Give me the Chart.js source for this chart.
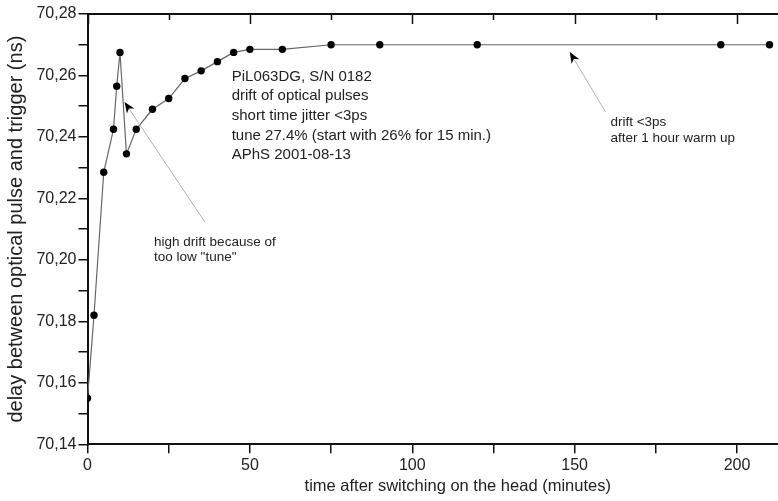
<!DOCTYPE html>
<html lang="en">
<head>
<meta charset="UTF-8">
<title>drift of optical pulses</title>
<script src="https://cdn.jsdelivr.net/npm/chart.js"></script>
<style>
  body { margin: 0; background: #fff; overflow: hidden; }
  #wrap { width: 850px; height: 501px; }
</style>
</head>
<body>
<div id="wrap"><canvas id="myChart"></canvas></div>
<script>
// measured points: minutes after switching on / delay in ns
const minutes = [0, 2, 5, 8, 9, 10, 12, 15, 20, 25, 30, 35, 40, 45, 50, 60, 75, 90, 120, 195, 210];
const delay = [70.155, 70.182, 70.2285, 70.2425, 70.2565, 70.2675, 70.2345, 70.2425, 70.249, 70.2525,
               70.259, 70.2615, 70.2645, 70.2675, 70.2685, 70.2685, 70.270, 70.270, 70.270, 70.270, 70.270];

// labelled ticks (minor ticks between them stay unlabelled)
const xTickValues = [0, 50, 100, 150, 200];
const xTickLabels = ['0', '50', '100', '150', '200'];
const yTickValues = [70.14, 70.16, 70.18, 70.20, 70.22, 70.24, 70.26, 70.28];
const yTickLabels = ['70,14', '70,16', '70,18', '70,20', '70,22', '70,24', '70,26', '70,28'];

// notes written into the plot, anchored in data units
const notes = [
    { x: 44.4, y: 70.2583, size: 15, step: 19.65,
      lines: ['PiL063DG, S/N 0182', 'drift of optical pulses', 'short time jitter <3ps',
              'tune 27.4% (start with 26% for 15 min.)', 'APhS 2001-08-13'] },
    { x: 20.5, y: 70.2046, size: 13.5, step: 15, lines: ['high drift because of', 'too low "tune"'] },
    { x: 161, y: 70.2436, size: 13.5, step: 16.5, lines: ['drift <3ps', 'after 1 hour warm up'] }
];
const arrows = [
    { from: [36.15, 70.2123], to: [11.4, 70.2514] },
    { from: [159.5, 70.2481], to: [148.5, 70.2676] }
];

const family = "'Liberation Sans', Arial, sans-serif";

function lookup(values, labels, v) {
    for (let i = 0; i < values.length; i++) {
        if (Math.abs(values[i] - v) < 1e-6) return labels[i];
    }
    return '';
}

// top/right mirror axes with inward ticks, plus the arrows and notes
const frame = {
    id: 'frame',
    afterDatasetsDraw(chart) {
        const { ctx, chartArea: a, scales: { x, y } } = chart;
        ctx.save();
        ctx.strokeStyle = '#111';
        ctx.lineWidth = 2;
        ctx.beginPath();
        ctx.moveTo(a.left, a.top);
        ctx.lineTo(a.right, a.top);
        ctx.lineTo(a.right, a.bottom);
        ctx.stroke();

        ctx.lineWidth = 1.5;
        ctx.beginPath();
        x.ticks.forEach(t => {
            const px = Math.round(x.getPixelForValue(t.value)) + 0.5;
            const len = t.label ? 10 : 6;
            ctx.moveTo(px, a.top);
            ctx.lineTo(px, a.top + len);
        });
        y.ticks.forEach(t => {
            const py = Math.round(y.getPixelForValue(t.value)) + 0.5;
            const len = t.label ? 10 : 6;
            ctx.moveTo(a.right, py);
            ctx.lineTo(a.right - len, py);
        });
        ctx.stroke();

        arrows.forEach(ar => {
            const x1 = x.getPixelForValue(ar.from[0]), y1 = y.getPixelForValue(ar.from[1]);
            const x2 = x.getPixelForValue(ar.to[0]), y2 = y.getPixelForValue(ar.to[1]);
            const ang = Math.atan2(y2 - y1, x2 - x1);
            const c = Math.cos(ang), s = Math.sin(ang);
            ctx.strokeStyle = '#b0b0b0';
            ctx.lineWidth = 1;
            ctx.beginPath();
            ctx.moveTo(x1, y1);
            ctx.lineTo(x2 - 9 * c, y2 - 9 * s);
            ctx.stroke();
            ctx.fillStyle = '#000';
            ctx.beginPath();
            ctx.moveTo(x2, y2);
            ctx.lineTo(x2 - 11 * c + 4.5 * s, y2 - 11 * s - 4.5 * c);
            ctx.lineTo(x2 - 8 * c, y2 - 8 * s);
            ctx.lineTo(x2 - 11 * c - 4.5 * s, y2 - 11 * s + 4.5 * c);
            ctx.closePath();
            ctx.fill();
        });

        ctx.fillStyle = '#222';
        ctx.textAlign = 'left';
        ctx.textBaseline = 'alphabetic';
        notes.forEach(n => {
            ctx.font = n.size + 'px ' + family;
            const px = x.getPixelForValue(n.x), py = y.getPixelForValue(n.y);
            n.lines.forEach((line, i) => ctx.fillText(line, px, py + i * n.step));
        });
        ctx.restore();
    }
};

const ctx = document.getElementById('myChart').getContext('2d');
new Chart(ctx, {
    type: 'scatter',
    data: {
        datasets: [{
            data: minutes.map((m, i) => ({ x: m, y: delay[i] })),
            showLine: true,
            borderColor: '#666',
            borderWidth: 1.2,
            pointRadius: 3.7,
            pointHoverRadius: 3.7,
            pointBackgroundColor: '#000',
            pointBorderWidth: 0
        }]
    },
    options: {
        responsive: true,
        maintainAspectRatio: false,
        animation: false,
        events: [],
        layout: { padding: { left: 0, right: 22, top: 14, bottom: 0 } },
        plugins: { legend: { display: false }, tooltip: { enabled: false } },
        scales: {
            x: {
                type: 'linear',
                min: 0,
                max: 228,
                afterFit(s) { s.height = 56.7; s.paddingLeft = 0; s.paddingRight = 0; },
                ticks: {
                    stepSize: 25, autoSkip: false, maxRotation: 0, padding: 3, color: '#222',
                    font: { size: 16, family: family },
                    callback: v => lookup(xTickValues, xTickLabels, v)
                },
                grid: { drawOnChartArea: false, drawTicks: true, tickLength: 9, color: '#111', lineWidth: 1.5 },
                border: { color: '#111', width: 2 },
                title: {
                    display: true, text: 'time after switching on the head (minutes)', color: '#222',
                    font: { size: 16.5, family: family }, padding: { top: 0, bottom: 5 }
                }
            },
            y: {
                type: 'linear',
                min: 70.14,
                max: 70.28,
                afterFit(s) { s.width = 87.5; s.paddingTop = 0; s.paddingBottom = 0; },
                ticks: {
                    stepSize: 0.01, autoSkip: false, padding: 2, color: '#222',
                    font: { size: 16, family: family },
                    callback: v => lookup(yTickValues, yTickLabels, v)
                },
                grid: { drawOnChartArea: false, drawTicks: true, tickLength: 9, color: '#111', lineWidth: 1.5 },
                border: { color: '#111', width: 2 },
                title: {
                    display: true, text: 'delay between optical pulse and trigger (ns)', color: '#222',
                    font: { size: 20, family: family }, padding: { top: 4, bottom: 0 }
                }
            }
        }
    },
    plugins: [frame]
});
</script>
</body>
</html>
